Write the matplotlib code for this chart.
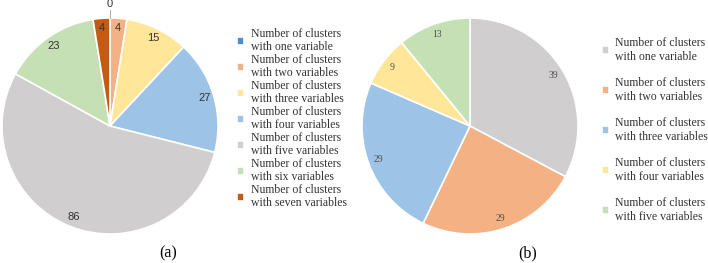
import numpy as np
import matplotlib
matplotlib.use("Agg")
import matplotlib.pyplot as plt

labels_a = ["Number of clusters\nwith one variable",
            "Number of clusters\nwith two variables",
            "Number of clusters\nwith three variables",
            "Number of clusters\nwith four variables",
            "Number of clusters\nwith five variables",
            "Number of clusters\nwith six variables",
            "Number of clusters\nwith seven variables"]
values_a = [0, 4, 15, 27, 86, 23, 4]
colors_a = ["#4A8FD6", "#F4B183", "#FFE699", "#9DC3E6", "#D0CECE", "#C5E0B4", "#C55A11"]

labels_b = ["Number of clusters\nwith one variable",
            "Number of clusters\nwith two variables",
            "Number of clusters\nwith three variables",
            "Number of clusters\nwith four variables",
            "Number of clusters\nwith five variables"]
values_b = [39, 29, 29, 9, 13]
colors_b = ["#D0CECE", "#F4B183", "#9DC3E6", "#FFE699", "#C5E0B4"]

W, H = 708, 263
fig = plt.figure(figsize=(W / 100, H / 100), dpi=100)

def make_ax(cx, cy, r):
    ax = fig.add_axes([(cx - r) / W, (H - cy - r) / H, 2 * r / W, 2 * r / H])
    return ax

def fix_ax(ax):
    ax.set_xlim(-1, 1)
    ax.set_ylim(-1, 1)
    ax.set_aspect("equal")
    ax.axis("off")

ax1 = make_ax(110, 126, 108)
ax2 = make_ax(470, 126, 108)

w1, _ = ax1.pie(values_a, colors=colors_a, startangle=90, counterclock=False,
                radius=1, wedgeprops=dict(edgecolor="white", linewidth=1.2))
fix_ax(ax1)
for w, v in zip(w1, values_a):
    ang = np.deg2rad((w.theta1 + w.theta2) / 2)
    if v == 0:
        ax1.plot([0, 0], [1.0, 1.07], color="#999999", lw=0.6, clip_on=False)
        ax1.text(0, 1.13, str(v), ha="center", va="center", fontsize=8,
                 family="Liberation Sans", color="#333333", clip_on=False)
    else:
        rr = 0.91
        ax1.text(rr * np.cos(ang), rr * np.sin(ang), str(v), ha="center", va="center",
                 fontsize=8, family="Liberation Sans", color="#333333")

w2, _ = ax2.pie(values_b, colors=colors_b, startangle=90, counterclock=False,
                radius=1, wedgeprops=dict(edgecolor="white", linewidth=1.2))
fix_ax(ax2)
for w, v in zip(w2, values_b):
    ang = np.deg2rad((w.theta1 + w.theta2) / 2)
    rr = 0.9
    ax2.text(rr * np.cos(ang), rr * np.sin(ang), str(v), ha="center", va="center",
             fontsize=7, family="Liberation Serif", color="#505050")

leg1 = fig.legend(w1, labels_a, loc="upper left", bbox_to_anchor=(237 / W, 1 - 28 / H),
                  frameon=False, prop=dict(family="Liberation Serif", size=8.5),
                  handlelength=0.6, handleheight=0.6, handletextpad=0.6,
                  labelspacing=0.08, borderaxespad=0, borderpad=0)
for t in leg1.get_texts():
    t.set_color("#333333")
    t.set_linespacing(1.12)

leg2 = fig.legend(w2, labels_b, loc="upper left", bbox_to_anchor=(602 / W, 1 - 37 / H),
                  frameon=False, prop=dict(family="Liberation Serif", size=8.5),
                  handlelength=0.6, handleheight=0.6, handletextpad=0.5,
                  labelspacing=1.2, borderaxespad=0, borderpad=0)
for t in leg2.get_texts():
    t.set_color("#333333")
    t.set_linespacing(1.2)

fig.text(168 / W, 1 - 253 / H, "(a)", ha="center", va="center", fontsize=11.5,
         family="Liberation Serif")
fig.text(528 / W, 1 - 253 / H, "(b)", ha="center", va="center", fontsize=11.5,
         family="Liberation Serif")

fig.savefig("out.png", dpi=100)
